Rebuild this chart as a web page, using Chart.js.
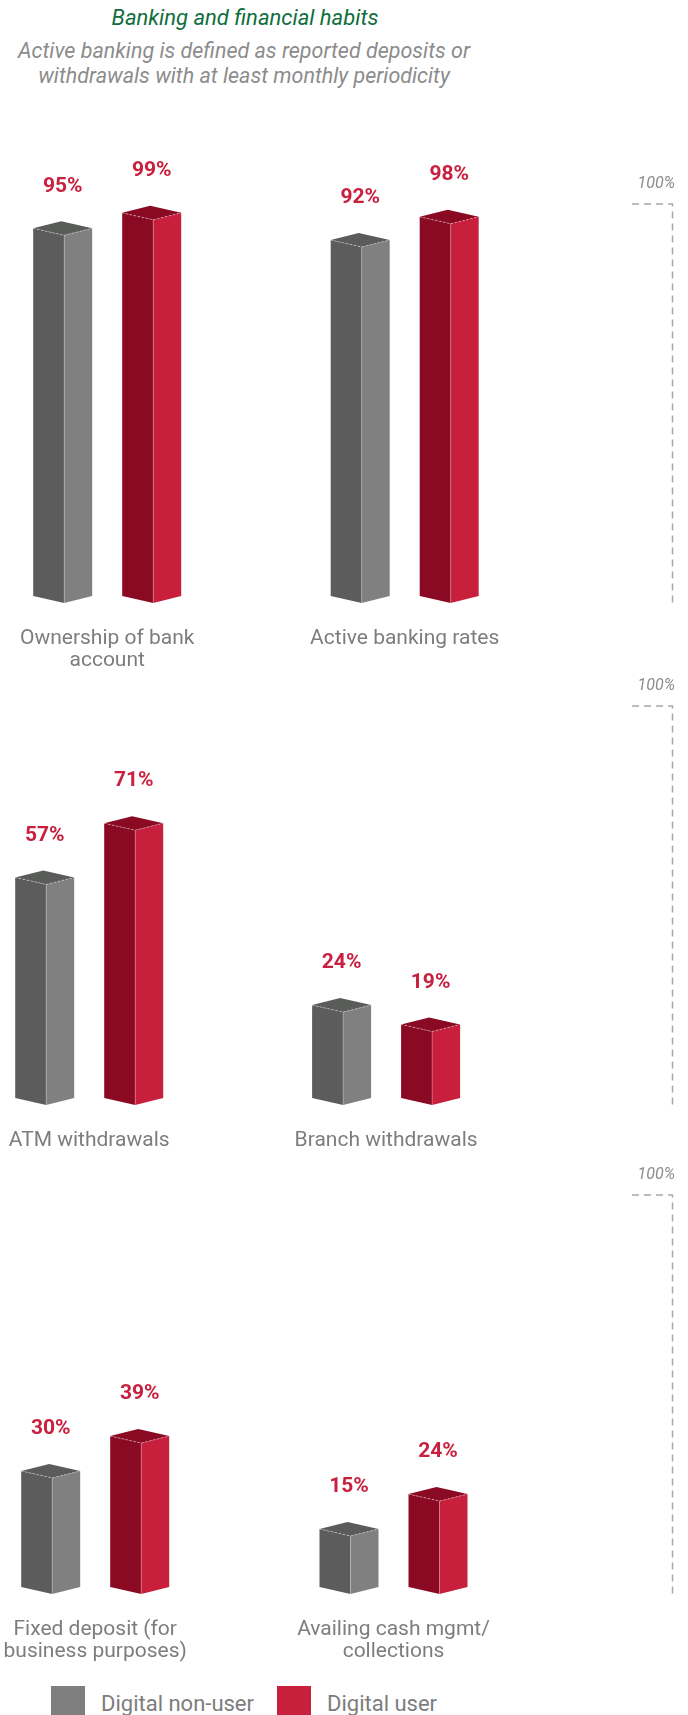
<!DOCTYPE html>
<html>
<head>
<meta charset="utf-8">
<title>Banking and financial habits</title>
<script src="https://cdn.jsdelivr.net/npm/chart.js@4.4.1/dist/chart.umd.min.js"></script>
<style>
  body { margin: 0; background: #fff; font-family: Roboto, "Noto Sans", sans-serif; }
  #page { position: relative; width: 688px; height: 1715px; overflow: hidden; }
  .panel { position: absolute; left: 0; width: 688px; height: 536px; }
  #title { position: absolute; left: 0; top: 5px; width: 490px; text-align: center;
    color: #0e6e3c; font-style: italic; font-size: 22px; line-height: 25px; }
  #subtitle { position: absolute; left: 0; top: 38px; width: 488px; text-align: center;
    color: #8c8c8c; font-style: italic; font-size: 21.5px; line-height: 25px; }
  #legend { position: absolute; left: 51px; top: 1686px; height: 34px; display: flex; align-items: center;
    font-size: 22px; color: #7d7d7d; }
  #legend .sw { width: 34px; height: 34px; margin-right: 16px; }
  #legend .item { display: flex; align-items: center; margin-right: 23px; }
</style>
</head>
<body>
<div id="page">
  <div id="title">Banking and financial habits</div>
  <div id="subtitle">Active banking is defined as reported deposits or<br>withdrawals with at least monthly periodicity</div>
  <div class="panel" style="top:140px"><canvas id="chart1"></canvas></div>
  <div class="panel" style="top:642px"><canvas id="chart2"></canvas></div>
  <div class="panel" style="top:1131px"><canvas id="chart3"></canvas></div>
  <div id="legend"></div>
</div>
<script>
// data
const accountCategories = [["Ownership of bank", "account"], ["Active banking rates"]];
const accountNonUser = [95, 92];
const accountUser = [99, 98];

const withdrawalCategories = [["ATM withdrawals"], ["Branch withdrawals"]];
const withdrawalNonUser = [57, 24];
const withdrawalUser = [71, 19];

const depositCategories = [["Fixed deposit (for", "business purposes)"], ["Availing cash mgmt/", "collections"]];
const depositNonUser = [30, 15];
const depositUser = [39, 24];

const seriesNames = ["Digital non-user", "Digital user"];
const scaleMax = 100;

// styles
const faceColors = [
  { left: '#5c5c5c', right: '#808080', top: '#5a5c5a', swatch: '#7f7f7f' },
  { left: '#8a0a24', right: '#c81f3d', top: '#8a0a24', swatch: '#c81f3d' }
];
const labelRed = '#c8203e';

const box3d = {
  id: 'box3d',
  afterDatasetsDraw(chart) {
    const ctx = chart.ctx;
    ctx.save();
    chart.data.datasets.forEach((ds, di) => {
      const c = faceColors[di];
      chart.getDatasetMeta(di).data.forEach((bar, i) => {
        const { x, y, base } = bar.getProps(['x', 'y', 'base'], true);
        const xl = x - 29.5, xf = x + 1.5, xr = x + 29.5, xb = xl + xr - xf, d = 7;

        ctx.fillStyle = c.left;
        ctx.beginPath();
        ctx.moveTo(xl, y); ctx.lineTo(xf, y + d); ctx.lineTo(xf, base + d); ctx.lineTo(xl, base);
        ctx.closePath(); ctx.fill();

        ctx.fillStyle = c.right;
        ctx.beginPath();
        ctx.moveTo(xf, y + d); ctx.lineTo(xr, y); ctx.lineTo(xr, base); ctx.lineTo(xf, base + d);
        ctx.closePath(); ctx.fill();

        ctx.fillStyle = c.top;
        ctx.beginPath();
        ctx.moveTo(xl, y); ctx.lineTo(xb, y - d); ctx.lineTo(xr, y); ctx.lineTo(xf, y + d);
        ctx.closePath(); ctx.fill();

        // light edges
        ctx.strokeStyle = 'rgba(255,255,255,0.45)';
        ctx.lineWidth = 1;
        ctx.setLineDash([2, 2]);
        ctx.beginPath();
        ctx.moveTo(xl, y); ctx.lineTo(xf, y + d); ctx.lineTo(xr, y);
        ctx.stroke();
        ctx.setLineDash([]);
        ctx.strokeStyle = 'rgba(255,255,255,0.25)';
        ctx.beginPath();
        ctx.moveTo(xf, y + d); ctx.lineTo(xf, base + d);
        ctx.stroke();

        ctx.fillStyle = labelRed;
        ctx.font = 'bold 21px Roboto';
        ctx.textAlign = 'center';
        ctx.textBaseline = 'middle';
        ctx.fillText(ds.data[i].y + '%', x, y - 42);
      });
    });
    ctx.restore();
  }
};

const bracket = {
  id: 'bracket',
  afterDraw(chart) {
    const ctx = chart.ctx;
    const ys = chart.scales.y;
    const top = ys.getPixelForValue(scaleMax) - 5;
    const bottom = ys.getPixelForValue(0) + 10;
    const xr = 672.5;
    ctx.save();
    ctx.strokeStyle = '#a8a8a8';
    ctx.lineWidth = 1.5;
    ctx.setLineDash([7, 5]);
    ctx.beginPath();
    ctx.moveTo(632, top); ctx.lineTo(xr, top); ctx.lineTo(xr, bottom);
    ctx.stroke();
    ctx.setLineDash([]);
    ctx.fillStyle = '#8c8c8c';
    ctx.font = 'italic 16px Roboto';
    ctx.textAlign = 'right';
    ctx.textBaseline = 'middle';
    ctx.fillText(scaleMax + '%', 675, ys.getPixelForValue(scaleMax) - 25);
    ctx.restore();
  }
};

function makePanel(id, categories, nonUser, user, c0, c1) {
  const span = 688 / (c1 - c0);
  const xMin = -c0 / (c1 - c0);
  const series = [nonUser, user];
  new Chart(document.getElementById(id), {
    type: 'bar',
    data: {
      datasets: series.map((vals, s) => ({
        label: seriesNames[s],
        data: vals.map((v, i) => ({ x: i, y: v })),
        backgroundColor: 'rgba(0,0,0,0)',
        borderWidth: 0,
        barThickness: 89
      }))
    },
    options: {
      responsive: true,
      maintainAspectRatio: false,
      animation: false,
      events: [],
      layout: { padding: { top: 69, left: 0, right: 0, bottom: 0 } },
      plugins: { legend: { display: false }, tooltip: { enabled: false } },
      scales: {
        x: {
          type: 'linear',
          offset: false,
          min: xMin,
          max: xMin + span,
          grid: { display: false, drawTicks: false, offset: false },
          border: { display: false },
          afterBuildTicks: axis => { axis.ticks = categories.map((c, i) => ({ value: i })); },
          afterFit: axis => {
            axis.height = 80;
            axis.paddingLeft = 0;
            axis.paddingRight = 0;
          },
          ticks: {
            autoSkip: false,
            maxRotation: 0,
            padding: 32,
            color: '#7d7d7d',
            font: { family: 'Roboto', size: 21, lineHeight: 1.05 },
            callback: (v) => categories[v]
          }
        },
        y: { display: false, min: 0, max: scaleMax }
      }
    },
    plugins: [box3d, bracket]
  });
}

makePanel('chart1', accountCategories, accountNonUser, accountUser, 107.2, 404.7);
makePanel('chart2', withdrawalCategories, withdrawalNonUser, withdrawalUser, 89.2, 386.1);
makePanel('chart3', depositCategories, depositNonUser, depositUser, 95.2, 393.5);

// legend
const legend = document.getElementById('legend');
seriesNames.forEach((name, s) => {
  const item = document.createElement('div');
  item.className = 'item';
  item.innerHTML = `<div class="sw" style="background:${faceColors[s].swatch}"></div><span>${name}</span>`;
  legend.appendChild(item);
});
</script>
</body>
</html>
